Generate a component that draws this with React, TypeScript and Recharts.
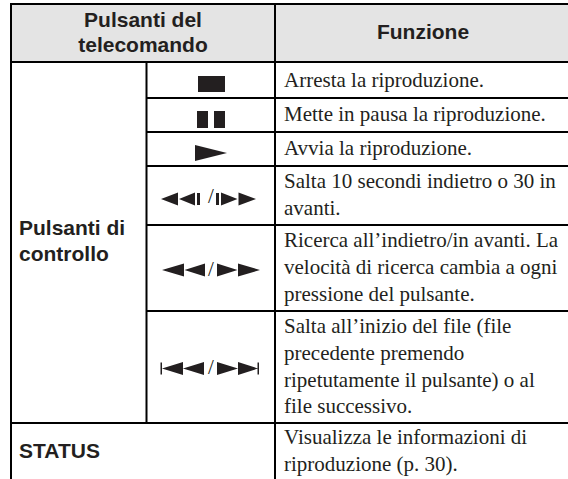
import React from 'react';
import { ScatterChart, Scatter, XAxis, YAxis, ReferenceArea, ReferenceLine } from 'recharts';

const WIDTH = 568;
const HEIGHT = 479;
const INK = '#231f20';
const SERIF = '"Liberation Serif", serif';
const SANS = '"Liberation Sans", sans-serif';

// table text, one entry per printed line
const headerLeft = ['Pulsanti del', 'telecomando'];
const headerRight = ['Funzione'];
const groupLabels = ['Pulsanti di', 'controllo', 'STATUS'];
const functionLines = [
  'Arresta la riproduzione.',
  'Mette in pausa la riproduzione.',
  'Avvia la riproduzione.',
  'Salta 10 secondi indietro o 30 in',
  'avanti.',
  'Ricerca all\u2019indietro/in avanti. La',
  'velocit\u00e0 di ricerca cambia a ogni',
  'pressione del pulsante.',
  'Salta all\u2019inizio del file (file',
  'precedente premendo',
  'ripetutamente il pulsante) o al',
  'file successivo.',
  'Visualizza le informazioni di',
  'riproduzione (p. 30).',
];
const functionBaselines = [87, 121, 155, 188, 215, 247, 274, 301, 333, 360, 387, 413, 444, 471];
const symbols = ['stop', 'pause', 'play', 'skip', 'scan', 'track'];
const symbolCentersY = [84, 119.5, 153, 199, 270, 368.5];

const rowLines = [98, 132, 166, 225, 311, 423];

const TextMark = (props: any) => {
  const { cx, cy, payload } = props;
  return (
    <text
      x={cx}
      y={cy}
      textAnchor={payload.anchor}
      fontFamily={payload.family}
      fontWeight={payload.weight}
      fontSize={payload.size}
      fill={INK}
    >
      {payload.text}
    </text>
  );
};

const tri = (x: number, y: number, w: number, h: number) =>
  `M${x} ${y - h / 2}L${x + w} ${y}L${x} ${y + h / 2}Z`;

const slashDrop: Record<string, number> = { skip: 4, scan: 6, track: 5.5 };

const SymbolMark = (props: any) => {
  const { cy, payload } = props;
  let d = '';
  switch (payload.name) {
    case 'stop':
      d = `M198 ${cy - 8}H225V${cy + 8}H198Z`;
      break;
    case 'pause':
      d = `M197 ${cy - 8.5}H208V${cy + 8.5}H197ZM214 ${cy - 8.5}H225V${cy + 8.5}H214Z`;
      break;
    case 'play':
      d = tri(195, cy, 32, 16);
      break;
    case 'skip':
      d =
        tri(178, cy, -17, 13) + tri(195, cy, -16, 13) + `M197 ${cy - 6}H200V${cy + 6}H197Z` +
        `M216 ${cy - 6}H219V${cy + 6}H216Z` + tri(221, cy, 16.5, 13) + tri(238.5, cy, 17.5, 13);
      break;
    case 'scan':
      d = tri(184, cy, -22, 13) + tri(205, cy, -20.5, 13) + tri(217, cy, 20.5, 13) + tri(238, cy, 22, 13);
      break;
    case 'track':
      d =
        `M160.5 ${cy - 6}H162V${cy + 6}H160.5Z` + tri(183, cy, -21, 13) + tri(204, cy, -21, 13) +
        tri(217, cy, 21, 13) + tri(238, cy, 20, 13) + `M257.5 ${cy - 6}H259V${cy + 6}H257.5Z`;
      break;
  }
  return (
    <g>
      <path d={d} fill={INK} />
      {payload.name in slashDrop && (
        <text x={211} y={cy + slashDrop[payload.name]} textAnchor="middle" fontFamily={SERIF} fontSize={21} fill={INK}>
          /
        </text>
      )}
    </g>
  );
};

const bodyText = functionLines.map((text, i) => ({
  x: 284,
  y: functionBaselines[i],
  text,
  anchor: 'start',
  family: SERIF,
  weight: 400,
  size: 21,
}));

const boldText = [
  { x: 143, y: 27, text: headerLeft[0], anchor: 'middle' },
  { x: 143, y: 52, text: headerLeft[1], anchor: 'middle' },
  { x: 423, y: 39, text: headerRight[0], anchor: 'middle' },
  { x: 19, y: 235, text: groupLabels[0], anchor: 'start' },
  { x: 19, y: 261, text: groupLabels[1], anchor: 'start' },
  { x: 19, y: 458, text: groupLabels[2], anchor: 'start' },
].map((d) => ({ ...d, family: SANS, weight: 700, size: 21 }));

const symbolData = symbols.map((name, i) => ({ x: 211, y: symbolCentersY[i], name }));

const rule = (x1: number, y1: number, x2: number, y2: number, key: string) => (
  <ReferenceLine
    key={key}
    segment={[{ x: x1, y: y1 }, { x: x2, y: y2 }]}
    stroke="#000"
    strokeWidth={2}
    ifOverflow="visible"
  />
);

export default function App() {
  return (
    <div style={{ position: 'fixed', left: 0, top: 0, width: WIDTH, height: HEIGHT, background: '#fff' }}>
      <ScatterChart width={WIDTH} height={HEIGHT} margin={{ top: 0, right: 0, bottom: 0, left: 0 }}>
        <XAxis type="number" dataKey="x" domain={[0, WIDTH]} hide />
        <YAxis type="number" dataKey="y" domain={[0, HEIGHT]} reversed hide />
        <ReferenceArea x1={11} x2={568} y1={4} y2={62} fill="#e4e4e4" fillOpacity={1} stroke="none" />
        {rule(10, 4, 568, 4, 'top')}
        {rule(11, 62, 568, 62, 'head')}
        {rule(11, 4, 11, 479, 'left')}
        {rule(146.5, 62, 146.5, 423, 'col1')}
        {rule(275, 4, 275, 479, 'col2')}
        {rowLines.map((y, i) => rule(i === 5 ? 11 : 146.5, y, 568, y, `row${i}`))}
        <Scatter data={bodyText} shape={TextMark} isAnimationActive={false} />
        <Scatter data={boldText} shape={TextMark} isAnimationActive={false} />
        <Scatter data={symbolData} shape={SymbolMark} isAnimationActive={false} />
      </ScatterChart>
    </div>
  );
}
